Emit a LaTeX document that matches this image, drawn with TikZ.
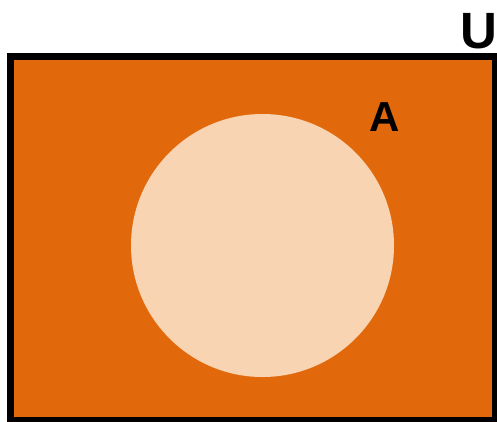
\documentclass[tikz,border=0pt]{standalone}
\usepackage{fontspec}
\setmainfont{Liberation Sans}
\usetikzlibrary{positioning}
\definecolor{vnOrange}{HTML}{E1690C}
\definecolor{vnPeach}{HTML}{F9D4B2}
\definecolor{vnInk}{HTML}{000000}
\tikzset{
 venn/.style={line join=miter,text=vnInk},
 universe/.style={draw=vnInk,fill=vnOrange,line width=7pt},
 setA/.style={fill=vnPeach},
 setlabel/.style={font=\bfseries,inner sep=0pt,anchor=center}
}

\begin{document}
\begin{tikzpicture}[venn,x=1pt,y=-1pt]
 \useasboundingbox (0,0) rectangle (497,421);
 \draw[universe] (10.5,56.5) rectangle (495.5,420.5);
 \fill[setA] (262.5,245.5) circle[radius=131.5];
 \node[setlabel,font=\fontsize{51}{51}\bfseries] (labU) at (479,31.5) {U};
 \node[setlabel,font=\fontsize{42}{42}\bfseries] (labA) at (385,117) {A};
\end{tikzpicture}
\end{document}
